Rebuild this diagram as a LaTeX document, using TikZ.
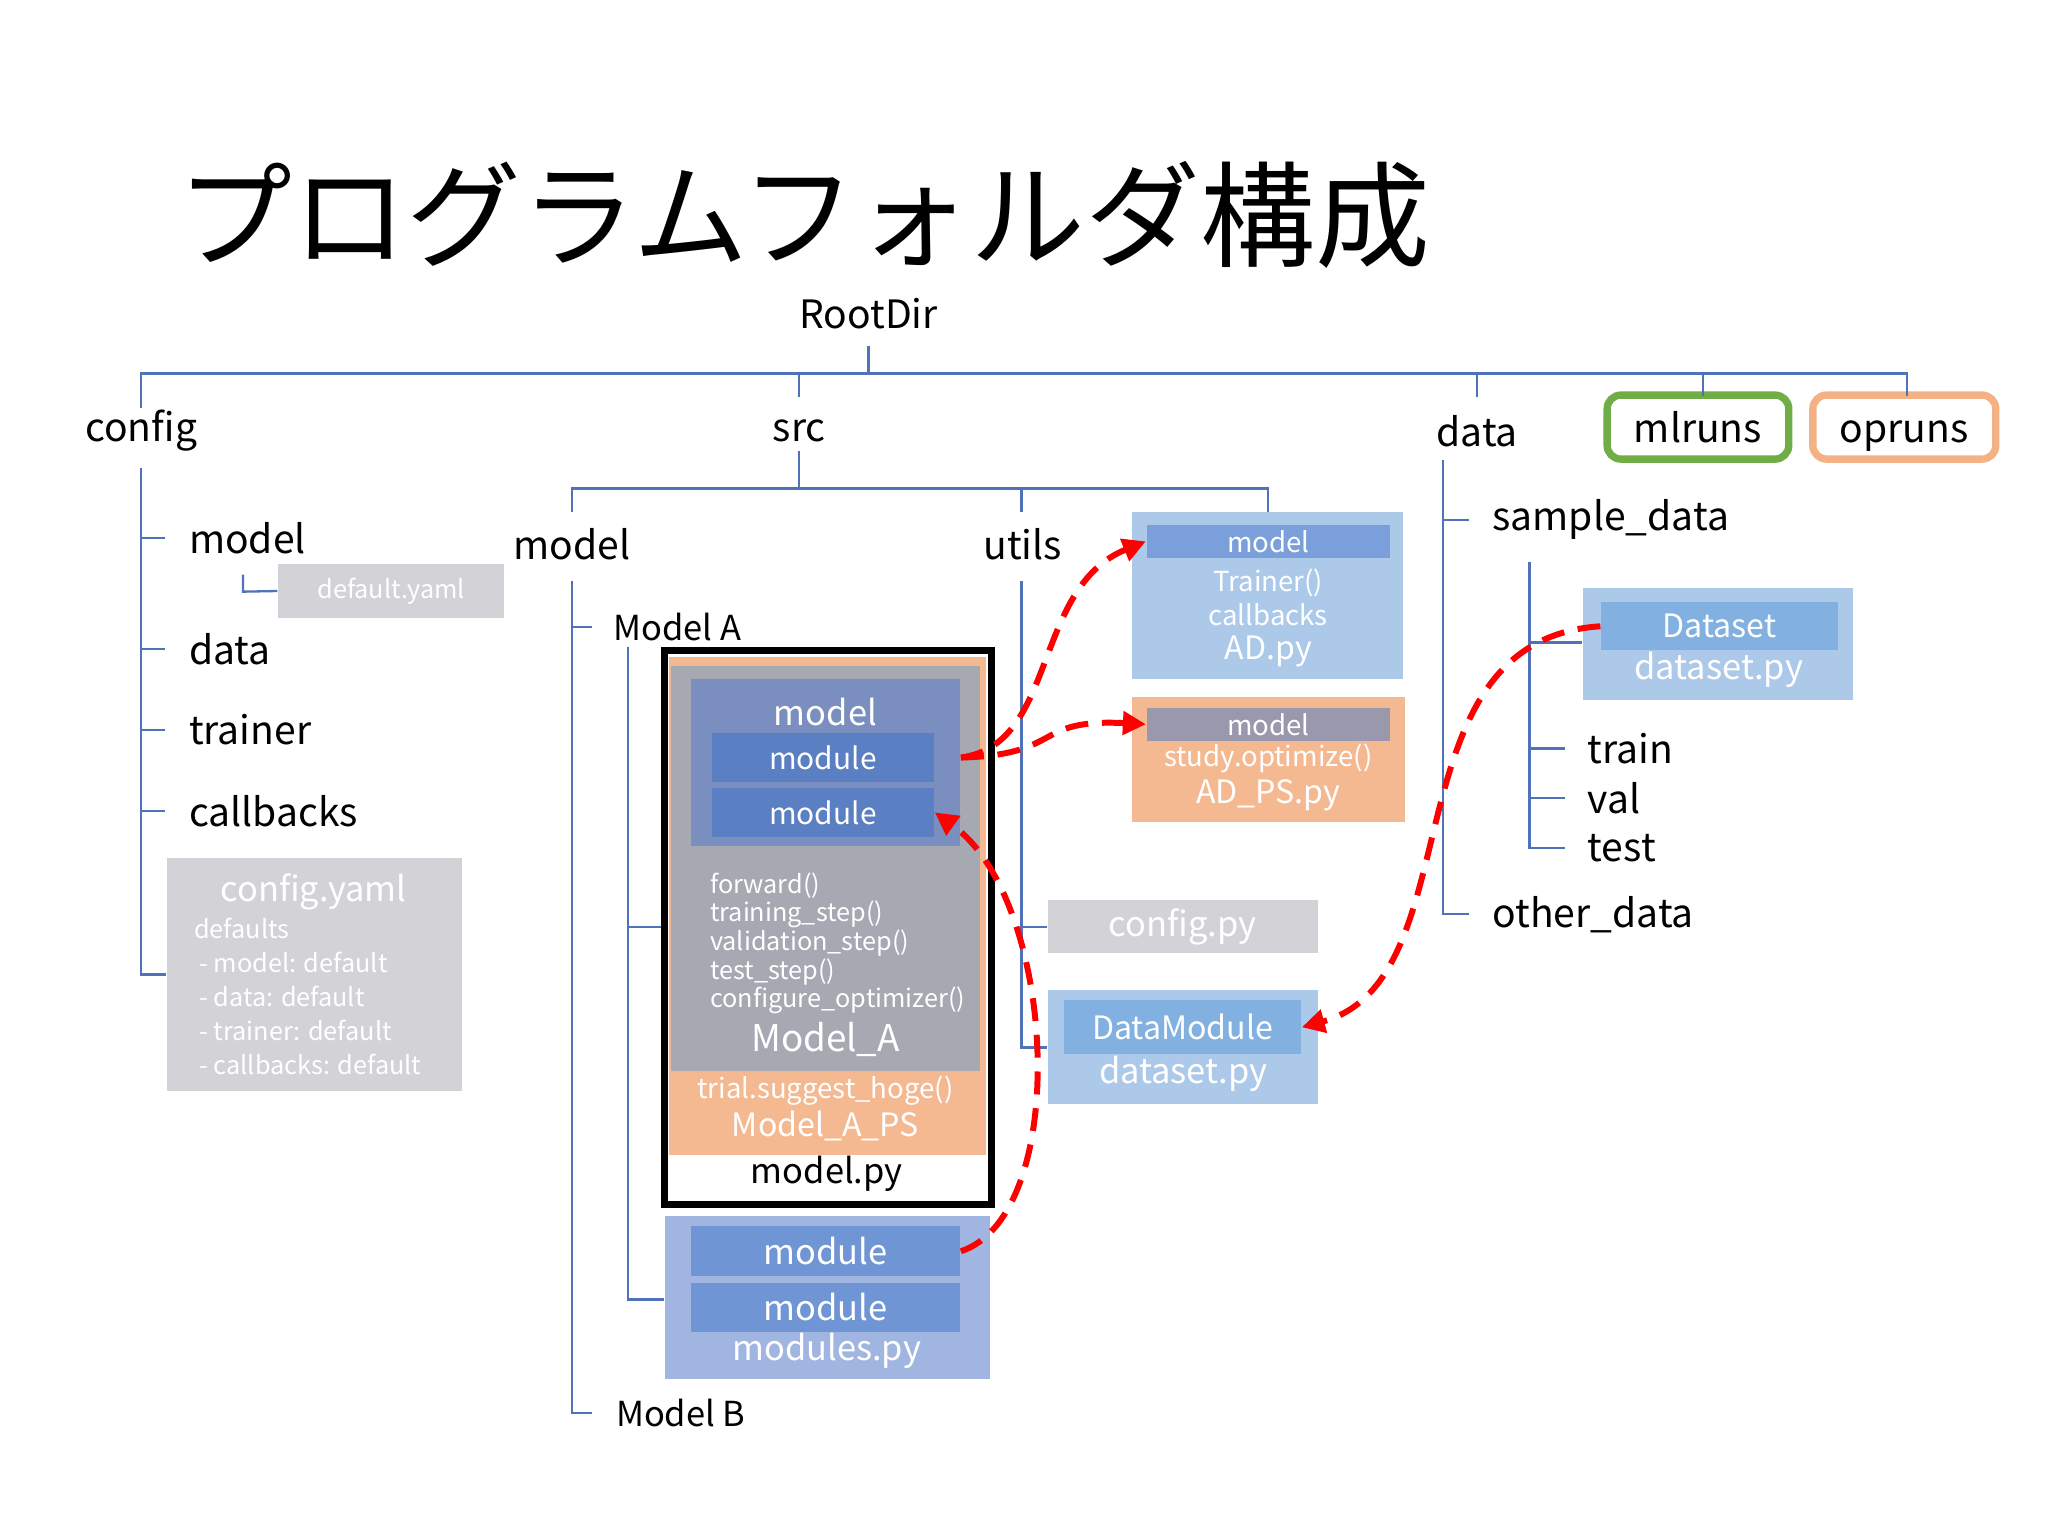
\documentclass[tikz,border=0pt]{standalone}
\usepackage{fontspec}
\setmainfont{Noto Sans CJK JP}
\usetikzlibrary{fit,arrows.meta}
\definecolor{treeline}{HTML}{4F72B8}
\definecolor{cfggray}{HTML}{D3D2D6}
\definecolor{lblue}{HTML}{ADC9E9}
\definecolor{mblue}{HTML}{82B0E0}
\definecolor{barblue}{HTML}{7B9FDB}
\definecolor{lorange}{HTML}{F5B991}
\definecolor{mgray}{HTML}{A6A8B2}
\definecolor{modblue}{HTML}{7A8FBF}
\definecolor{deepblue}{HTML}{5A7FC2}
\definecolor{modsblue}{HTML}{A0B5E0}
\definecolor{modsin}{HTML}{6F95D4}
\definecolor{barpurple}{HTML}{9A98AD}
\definecolor{mlgreen}{HTML}{70AD47}
\definecolor{oporange}{HTML}{F4B183}
\tikzset{
  tree/.style={draw=treeline, line width=0.5pt},
  box/.style={inner sep=0pt, draw=none},
  lbl/.style={inner sep=0pt, font=\fontsize{8.5}{10}\selectfont},
  sm/.style={inner sep=0pt, text=white, font=\fontsize{5.5}{6.5}\selectfont},
  md/.style={inner sep=0pt, text=white, font=\fontsize{6.5}{7.5}\selectfont},
  bg/.style={inner sep=0pt, text=white, font=\fontsize{7.5}{9}\selectfont},
  tag/.style={lbl, line width=1.6pt, rounded corners=3pt, minimum width=1.39cm, minimum height=0.49cm, text height=1.6ex, text depth=0.4ex},
  link/.style={red, line width=1.3pt, dash pattern=on 5pt off 3pt, -{Triangle[length=5pt,width=5pt]}},
}
\begin{document}
\begin{tikzpicture}[x=0.01cm, y=-0.01cm]
\useasboundingbox (0,0) rectangle (1568,1176);

% title
\node[inner sep=0pt, anchor=base west, font=\fontsize{25}{29}\selectfont] (title) at (135,198) {プログラムフォルダ構成};
\node[lbl] (root) at (665,240) {RootDir};

% top level
\node[lbl] (config) at (108,330) {config};
\node[lbl] (src) at (612,330) {src};
\node[lbl] (data) at (1131,330) {data};
\node[tag, draw=mlgreen] (mlruns) at (1300,327) {mlruns};
\node[tag, draw=oporange, minimum width=1.40cm] (opruns) at (1458,327) {opruns};

\coordinate (rj) at (665,286);
\draw[tree] (root.south |- 0,265) -- (rj);
\draw[tree] (108,312) -- (108,286) -- (1460,286) -- (1460,303);
\draw[tree] (612,286) -- (612,304);
\draw[tree] (1131,286) -- (1131,304);
\draw[tree] (1304,286) -- (1304,303);

% config subtree
\node[lbl, anchor=west] (cmodel) at (144,412) {model};
\node[lbl, anchor=west] (cdata) at (144,497) {data};
\node[lbl, anchor=west] (ctrainer) at (144,559) {trainer};
\node[lbl, anchor=west] (ccallbacks) at (144,621) {callbacks};
\node[box, fill=cfggray, fit={(213,432) (386,473)}] (defyaml) {};
\node[sm] at (defyaml) {default.yaml};
\node[box, fill=cfggray, fit={(128,657) (354,835)}] (cfgyaml) {};
\node[bg] at (240,683) {config.yaml};
\node[sm, anchor=west] at (148,711) {defaults};
\node[sm, anchor=west] at (152,737) {- model: default};
\node[sm, anchor=west] at (152,763) {- data: default};
\node[sm, anchor=west] at (152,789) {- trainer: default};
\node[sm, anchor=west] at (152,815) {- callbacks: default};
\draw[tree] (108,358) -- (108,746) -- (cfgyaml.west |- 0,746);
\foreach \y in {412,497,559,621} \draw[tree] (108,\y) -- (126,\y);
\draw[tree] (186,440) -- (186,453) -- (defyaml.west);

% src subtree
\node[lbl] (smodel) at (438,417) {model};
\node[lbl] (utils) at (783,417) {utils};
\draw[tree] (612,345) -- (612,374);
\draw[tree] (438,392) -- (438,374) -- (971,374) -- (971,392);
\draw[tree] (782,374) -- (782,392);

\node[lbl, anchor=west, font=\fontsize{7.5}{9}\selectfont] (modelA) at (469,480) {Model A};
\node[lbl, anchor=west, font=\fontsize{7.5}{9}\selectfont] (modelB) at (471,1082) {Model B};
\draw[tree] (438,445) -- (438,1082) -- (453,1082);
\draw[tree] (438,480) -- (453,480);

% model.py
\node[box, draw=black, line width=1.5pt, fill=white, fit={(509,498) (759,922)}] (modelpy) {};
\node[box, fill=lorange, fit={(512,503) (755,884)}] (modelps) {};
\node[box, fill=mgray, fit={(514,510) (750,820)}] (modela) {};
\node[box, fill=modblue, fit={(529,520) (735,648)}] (mmodel) {};
\node[box, fill=deepblue, fit={(545,561) (715,599)}] (mod1) {};
\node[box, fill=deepblue, fit={(545,603) (715,641)}] (mod2) {};
\node[bg] at (632,545) {model};
\node[md] at (mod1) {module};
\node[md] at (mod2) {module};
\foreach \t [count=\i] in {forward(),training\_step(),validation\_step(),test\_step(),configure\_optimizer()}
  \node[sm] at (543,656+22*\i) [anchor=west] {\t};
\node[bg, font=\fontsize{8}{9}\selectfont] at (632,796) {Model\_A};
\node[md, font=\fontsize{6}{7}\selectfont] at (632,835) {trial.suggest\_hoge()};
\node[bg, font=\fontsize{7}{8}\selectfont] at (632,862) {Model\_A\_PS};
\node[lbl, font=\fontsize{7.5}{9}\selectfont] at (633,899) {model.py};

% modules.py
\node[box, fill=modsblue, fit={(509,931) (758,1056)}] (modulespy) {};
\node[box, fill=modsin, fit={(529,939) (735,977)}] (mod3) {};
\node[box, fill=modsin, fit={(529,982) (735,1020)}] (mod4) {};
\node[bg] at (mod3) {module};
\node[bg] at (mod4) {module};
\node[bg] at (633,1034) {modules.py};
\draw[tree] (481,495) -- (481,995) -- (modulespy.west |- 0,995);
\draw[tree] (481,710) -- (modelpy.west |- 0,710);

% utils subtree
\node[box, fill=cfggray, fit={(802,689) (1009,730)}] (cfgpy) {};
\node[bg] at (cfgpy) {config.py};
\node[box, fill=lblue, fit={(802,758) (1009,845)}] (dspy) {};
\node[box, fill=mblue, fit={(815,766) (996,807)}] (datamod) {};
\node[md, font=\fontsize{7}{8}\selectfont] at (datamod) {DataModule};
\node[bg] at (906,822) {dataset.py};
\draw[tree] (782,445) -- (782,802) -- (dspy.west |- 0,802);
\draw[tree] (782,710) -- (cfgpy.west |- 0,710);

\node[box, fill=lblue, fit={(867,392) (1074,520)}] (adpy) {};
\node[box, fill=barblue, fit={(878,402) (1064,427)}] (adbar) {};
\node[sm, font=\fontsize{6}{7}\selectfont] at (adbar) {model};
\node[sm, font=\fontsize{6}{7}\selectfont] at (971,446) {Trainer()};
\node[sm, font=\fontsize{6}{7}\selectfont] at (971,471) {callbacks};
\node[md, font=\fontsize{7}{8}\selectfont] at (971,499) {AD.py};

\node[box, fill=lorange, fit={(867,534) (1076,629)}] (adps) {};
\node[box, fill=barpurple, fit={(878,542) (1064,567)}] (psbar) {};
\node[sm, font=\fontsize{6}{7}\selectfont] at (psbar) {model};
\node[sm, font=\fontsize{6}{7}\selectfont] at (971,581) {study.optimize()};
\node[md, font=\fontsize{7}{8}\selectfont] at (971,609) {AD\_PS.py};

% data subtree
\node[lbl, anchor=west] (sample) at (1142,398) {sample\_data};
\node[lbl, anchor=west] (other) at (1142,700) {other\_data};
\draw[tree] (1105,352) -- (1105,700) -- (1125,700);
\draw[tree] (1105,398) -- (1125,398);
\node[box, fill=lblue, fit={(1212,450) (1419,536)}] (dsbox) {};
\node[box, fill=mblue, fit={(1226,461) (1407,498)}] (dataset) {};
\node[md, font=\fontsize{7}{8}\selectfont] at (dataset) {Dataset};
\node[bg] at (1316,513) {dataset.py};
\node[lbl, anchor=west] (train) at (1215,573) {train};
\node[lbl, anchor=west] (val) at (1215,611) {val};
\node[lbl, anchor=west] (test) at (1215,649) {test};
\draw[tree] (1171,430) -- (1171,649) -- (1198,649);
\draw[tree] (1171,492) -- (dsbox.west |- 0,492);
\foreach \y in {573,611} \draw[tree] (1171,\y) -- (1198,\y);

% links
\draw[link] (mod1.east) ++(20,0) .. controls (810,570) and (790,450) .. (adbar.west);
\draw[link] (mod1.east) ++(20,0) .. controls (815,578) and (790,550) .. (psbar.west);
\draw[link] (mod3.east) .. controls (820,930) and (810,690) .. (mod2.east);
\draw[link] (dataset.west) .. controls (1060,490) and (1130,750) .. (datamod.east);
\end{tikzpicture}
\end{document}
